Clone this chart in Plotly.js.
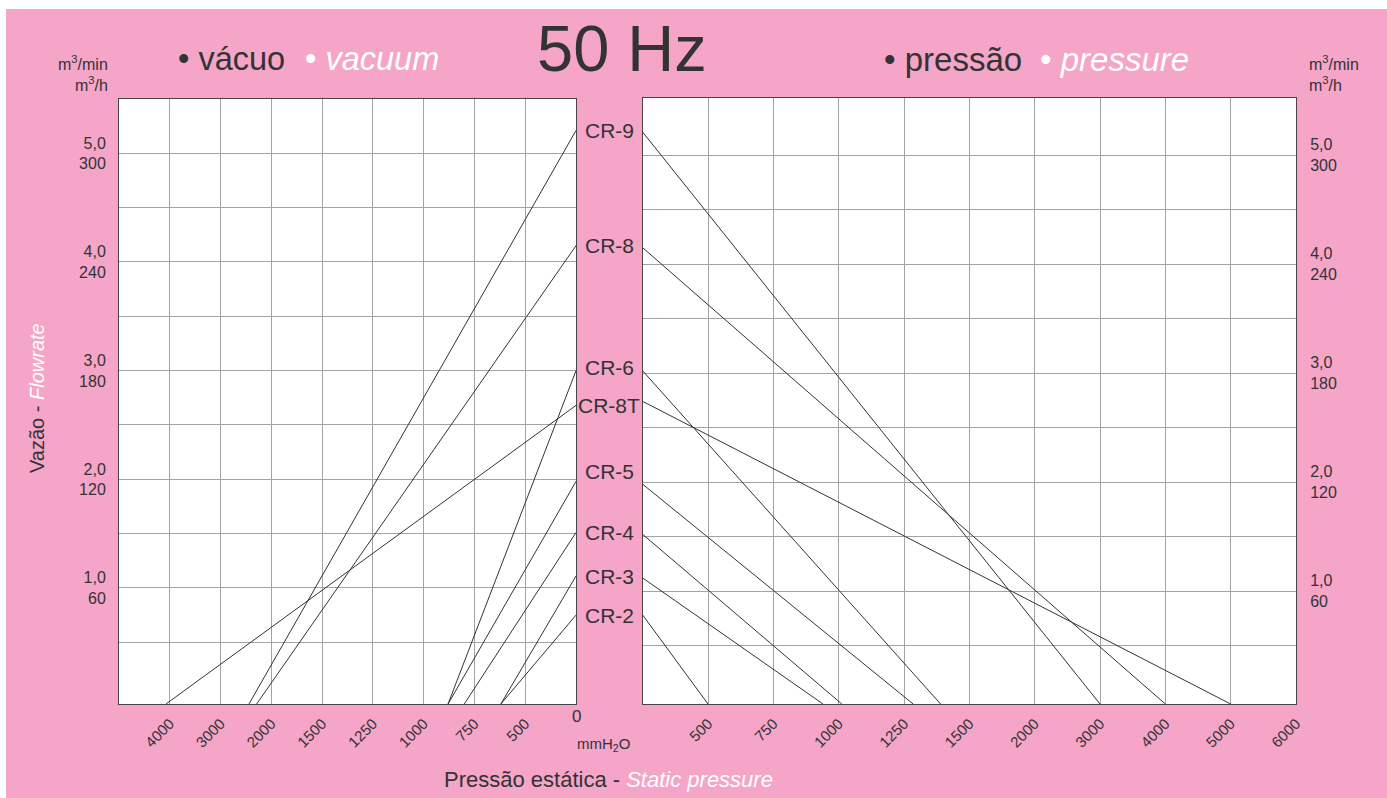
<!DOCTYPE html>
<html>
<head>
<meta charset="utf-8">
<script src="https://cdn.plot.ly/plotly-3.0.1.min.js"></script>
<style>html,body{margin:0;padding:0;background:#fff;}#chart{width:1387px;height:798px;}</style>
</head>
<body>
<div id="chart"></div>
<script>
// ---------- data ----------
const models = ['CR-9', 'CR-8', 'CR-6', 'CR-8T', 'CR-5', 'CR-4', 'CR-3', 'CR-2'];
// vacuum side: flow (m3/min) at 0 mmH2O and vacuum (mmH2O) where the line meets the frame bottom
const vacuumFlowAtZero = [5.21, 4.15, 3.00, 2.68, 1.98, 1.51, 1.11, 0.75];
const vacuumAtFrameBottom = [2440, 2290, 880, 4075, 880, 800, 620, 620];
const vacuumFlowAtBottom = [-0.068, -0.068, -0.068, -0.068, -0.068, -0.068, -0.068, -0.068];
// pressure side
const pressureFlowAtZero = [5.21, 4.15, 3.02, 2.74, 1.98, 1.52, 1.12, 0.78];
const pressureAtFrameBottom = [3000, 4000, 1390, 5000, 1285, 1012, 940, 500];
const pressureFlowAtBottom = [-0.036, -0.036, -0.036, -0.036, -0.036, -0.036, -0.036, -0.036];
// axis tick labels (non-linear scales, evenly spaced on the chart)
const vacuumTicks = [5000, 4000, 3000, 2000, 1500, 1250, 1000, 750, 500, 0];
const pressureTicks = [0, 500, 750, 1000, 1250, 1500, 2000, 3000, 4000, 5000, 6000];
const flowTicksMin = ['1,0', '2,0', '3,0', '4,0', '5,0'];
const flowTicksH = ['60', '120', '180', '240', '300'];
const flowTickVals = [1, 2, 3, 4, 5];
const flowHalfVals = [0.5, 1.5, 2.5, 3.5, 4.5];

// ---------- piecewise scale: value -> evenly spaced tick position ----------
function makeScale(ticks) {
  return function (v) {
    for (let i = 0; i < ticks.length - 1; i++) {
      const a = ticks[i], b = ticks[i + 1];
      const lo = Math.min(a, b), hi = Math.max(a, b);
      if (v >= lo && v <= hi) return i + (v - a) / (b - a);
    }
    return NaN;
  };
}
const vacPos = makeScale(vacuumTicks);
const presPos = makeScale(pressureTicks);

const W = 1387, H = 798;
const px = x => x / W;
const py = y => 1 - y / H;

const FONT = 'Liberation Sans, Arial, Helvetica, sans-serif';
const DARK = '#333333';
const PINK = '#F5A5C8';
const GRID = '#a3a3a3';

const traces = [];
models.forEach((m, i) => {
  traces.push({
    type: 'scatter', mode: 'lines', name: m, showlegend: false, hoverinfo: 'skip',
    x: [vacPos(0), vacPos(vacuumAtFrameBottom[i])],
    y: [vacuumFlowAtZero[i], vacuumFlowAtBottom[i]],
    xaxis: 'x', yaxis: 'y',
    line: {color: DARK, width: 1}
  });
  traces.push({
    type: 'scatter', mode: 'lines', name: m, showlegend: false, hoverinfo: 'skip',
    x: [presPos(0), presPos(pressureAtFrameBottom[i])],
    y: [pressureFlowAtZero[i], pressureFlowAtBottom[i]],
    xaxis: 'x2', yaxis: 'y2',
    line: {color: DARK, width: 1}
  });
});

const yText = flowTickVals.map((v, i) => flowTicksMin[i] + '<br>' + flowTicksH[i]);

const vacTickVals = [], vacTickText = [];
for (let i = 1; i < vacuumTicks.length - 1; i++) { vacTickVals.push(vacPos(vacuumTicks[i])); vacTickText.push(String(vacuumTicks[i])); }
const presTickVals = [], presTickText = [];
for (let i = 1; i < pressureTicks.length; i++) { presTickVals.push(presPos(pressureTicks[i])); presTickText.push(String(pressureTicks[i])); }

const axisCommon = {
  showline: true, mirror: true, linecolor: '#444', linewidth: 1,
  showgrid: true, gridcolor: GRID, gridwidth: 1, zeroline: false,
  ticks: '', fixedrange: true
};

const annotations = [];
function ann(o) { annotations.push(Object.assign({showarrow: false, xref: 'paper', yref: 'paper', font: {family: FONT, color: DARK}}, o)); }

ann({text: '50 Hz', x: px(622), y: py(49), xanchor: 'center', yanchor: 'middle', font: {family: FONT, size: 65, color: DARK}});
ann({text: '• vácuo', x: px(176), y: py(59), xanchor: 'left', yanchor: 'middle', font: {family: FONT, size: 32.5, color: DARK}});
ann({text: '• <i>vacuum</i>', x: px(303), y: py(59), xanchor: 'left', yanchor: 'middle', font: {family: FONT, size: 32.5, color: '#ffffff'}});
ann({text: '• pressão', x: px(882), y: py(59), xanchor: 'left', yanchor: 'middle', font: {family: FONT, size: 33, color: DARK}});
ann({text: '• <i>pressure</i>', x: px(1038), y: py(59), xanchor: 'left', yanchor: 'middle', font: {family: FONT, size: 33, color: '#ffffff'}});
ann({text: 'm<sup>3</sup>/min<br>m<sup>3</sup>/h', x: px(110), y: py(74), xanchor: 'right', yanchor: 'middle', align: 'right', font: {family: FONT, size: 16, color: DARK}});
ann({text: 'm<sup>3</sup>/min<br>m<sup>3</sup>/h', x: px(1307), y: py(74), xanchor: 'left', yanchor: 'middle', align: 'left', font: {family: FONT, size: 16, color: DARK}});
ann({text: 'Vazão - <i><span style="color:#ffffff">Flowrate</span></i>', x: px(37), y: py(398), xanchor: 'center', yanchor: 'middle', textangle: -90, font: {family: FONT, size: 20, color: DARK}});
ann({text: 'Pressão estática - <i><span style="color:#ffffff">Static pressure</span></i>', x: px(608), y: py(779), xanchor: 'center', yanchor: 'middle', font: {family: FONT, size: 22, color: DARK}});
ann({text: '0', x: px(576), y: py(716), xanchor: 'center', yanchor: 'middle', font: {family: FONT, size: 17, color: DARK}});
ann({text: 'mmH<sub>2</sub>O', x: px(603), y: py(744), xanchor: 'center', yanchor: 'middle', font: {family: FONT, size: 15, color: DARK}});

models.forEach((m, i) => {
  annotations.push({
    text: m, showarrow: false, xref: 'paper', yref: 'y', x: px(609), y: vacuumFlowAtZero[i],
    xanchor: 'center', yanchor: 'middle', yshift: m === 'CR-5' ? 10 : (m === 'CR-6' ? 3 : 0),
    font: {family: FONT, size: 21, color: DARK}
  });
});

const layout = {
  width: W, height: H,
  margin: {l: 0, r: 0, t: 0, b: 0, pad: 0},
  paper_bgcolor: PINK, plot_bgcolor: '#ffffff',
  showlegend: false,
  font: {family: FONT, color: DARK},
  xaxis: Object.assign({}, axisCommon, {
    domain: [px(119), px(576)], range: [0, vacuumTicks.length - 1], anchor: 'y',
    tickmode: 'array', tickvals: vacTickVals, ticktext: vacTickText, tickangle: -45,
    tickfont: {family: FONT, size: 15, color: DARK}, ticklabelstandoff: 4
  }),
  yaxis: Object.assign({}, axisCommon, {
    domain: [py(704), py(99)], range: [-0.068, 5.5], anchor: 'x',
    tickmode: 'array', tickvals: flowTickVals, ticktext: yText,
    minor: {tickmode: 'array', tickvals: flowHalfVals, showgrid: true, gridcolor: GRID, gridwidth: 1, ticks: ''},
    tickfont: {family: FONT, size: 16, color: DARK}, ticklabelstandoff: 9
  }),
  xaxis2: Object.assign({}, axisCommon, {
    domain: [px(642.7), px(1296)], range: [0, pressureTicks.length - 1], anchor: 'y2',
    tickmode: 'array', tickvals: presTickVals, ticktext: presTickText, tickangle: -45,
    tickfont: {family: FONT, size: 15, color: DARK}, ticklabelstandoff: 4
  }),
  yaxis2: Object.assign({}, axisCommon, {
    domain: [py(704), py(97.5)], range: [-0.036, 5.528], anchor: 'x2', side: 'right',
    tickmode: 'array', tickvals: flowTickVals, ticktext: yText,
    minor: {tickmode: 'array', tickvals: flowHalfVals, showgrid: true, gridcolor: GRID, gridwidth: 1, ticks: ''},
    tickfont: {family: FONT, size: 16, color: DARK}, ticklabelstandoff: 10
  }),
  shapes: [
    {type: 'rect', xref: 'paper', yref: 'paper', x0: 0, x1: 1, y0: py(9), y1: 1, fillcolor: '#ffffff', line: {width: 0}, layer: 'below'},
    {type: 'rect', xref: 'paper', yref: 'paper', x0: 0, x1: px(6), y0: 0, y1: 1, fillcolor: '#ffffff', line: {width: 0}, layer: 'below'}
  ],
  annotations: annotations
};

Plotly.newPlot('chart', traces, layout, {displayModeBar: false, staticPlot: true});
</script>
</body>
</html>
